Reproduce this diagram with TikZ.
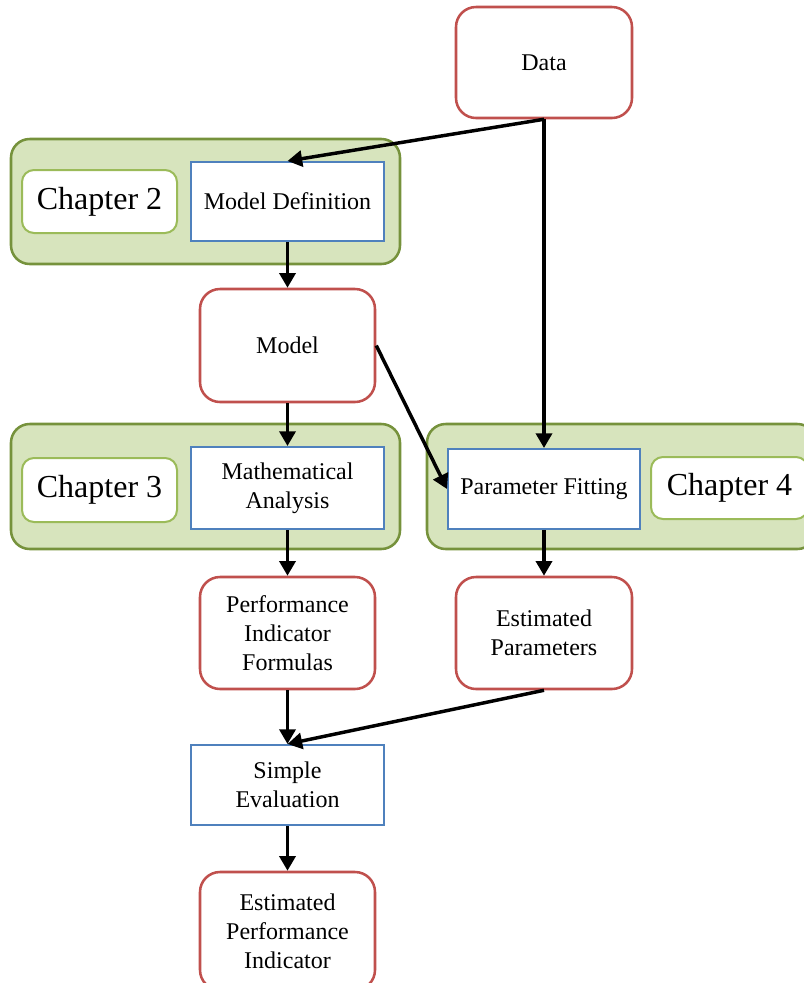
\documentclass[tikz,border=0pt]{standalone}
\usepackage{fontspec}
\setmainfont{Liberation Serif}
\usetikzlibrary{arrows.meta}
\definecolor{redb}{RGB}{192,80,77}
\definecolor{blueb}{RGB}{79,129,189}
\definecolor{grpfill}{RGB}{215,228,189}
\definecolor{grpline}{RGB}{118,146,60}
\definecolor{chapline}{RGB}{155,187,89}
\tikzset{
  wh/.style 2 args={minimum width=#1*0.75pt, minimum height=#2*0.75pt},
  redbox/.style={draw=redb, line width=1.9pt, rounded corners=15pt, fill=white, inner sep=0pt, align=center, font=\fontsize{18}{21.6}\selectfont},
  bluebox/.style={draw=blueb, line width=1.5pt, fill=white, inner sep=0pt, align=center, font=\fontsize{18}{21.6}\selectfont},
  grpbox/.style={draw=grpline, line width=1.9pt, rounded corners=14pt, fill=grpfill, inner sep=0pt},
  chapbox/.style={draw=chapline, line width=1.5pt, rounded corners=9pt, fill=white, inner sep=0pt, font=\fontsize{24}{28}\selectfont},
  conn/.style={line width=2.6pt, -{Triangle[length=11pt,width=12pt]}}
}
\begin{document}
\begin{tikzpicture}[x=0.75pt,y=-0.75pt]
\useasboundingbox (0,0) rectangle (804,983);
% groups
\node[grpbox, wh={389}{125}] (g2) at (205.5,201.5) {};
\node[grpbox, wh={389}{125}] (g3) at (205.5,486.5) {};
\node[grpbox, wh={389}{125}] (g4) at (621.5,486.5) {};
% chapter labels
\node[chapbox, wh={155}{63}] (c2) at (99.5,201.5) {Chapter 2};
\node[chapbox, wh={155}{64}] (c3) at (99.5,490) {Chapter 3};
\node[chapbox, wh={157}{62}] (c4) at (729.5,488) {Chapter 4};
% process boxes
\node[bluebox, wh={193}{79}] (md) at (287.5,201.5) {Model Definition};
\node[bluebox, wh={193}{82}] (ma) at (287.5,488) {Mathematical\\Analysis};
\node[bluebox, wh={192}{80}] (pf) at (544,489) {Parameter Fitting};
\node[bluebox, wh={193}{80}] (se) at (287.5,785) {Simple\\Evaluation};
% data boxes
\node[redbox, wh={176}{111}] (data) at (544,62.5) {Data};
\node[redbox, wh={175}{113}] (model) at (287.5,345.5) {Model};
\node[redbox, wh={175}{112}] (pif) at (287.5,633) {Performance\\Indicator\\Formulas};
\node[redbox, wh={176}{112}] (ep) at (544,633) {Estimated\\Parameters};
\node[redbox, wh={175}{118}] (epi) at (287.5,931) {Estimated\\Performance\\Indicator};
% connectors
\draw[conn] (data.south) -- (md.north);
\draw[conn] (data.south) -- (pf.north);
\draw[conn] (md.south) -- (model.north);
\draw[conn] (model.east) -- (pf.west);
\draw[conn] (model.south) -- (ma.north);
\draw[conn] (ma.south) -- (pif.north);
\draw[conn] (pf.south) -- (ep.north);
\draw[conn] (pif.south) -- (se.north);
\draw[conn] (ep.south) -- (se.north);
\draw[conn] (se.south) -- (epi.north);
\end{tikzpicture}
\end{document}
